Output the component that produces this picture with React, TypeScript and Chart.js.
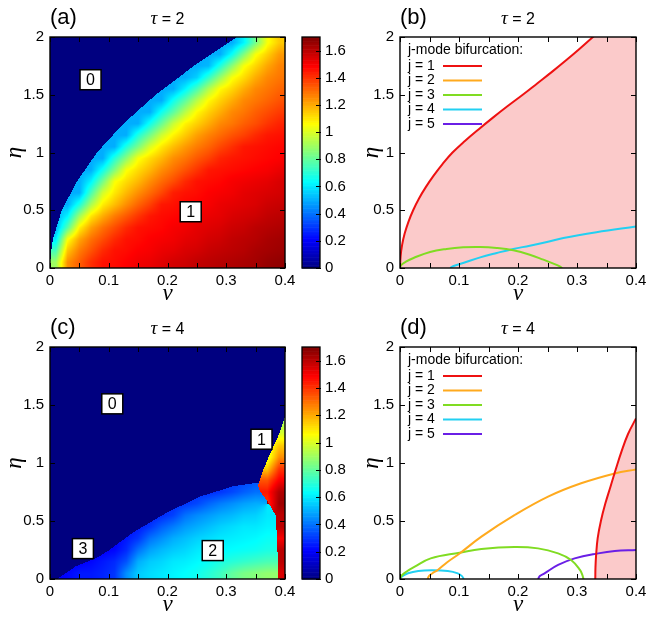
import React, { useEffect, useRef } from "react";
import { Chart, registerables } from "chart.js";

Chart.register(...registerables);

const PAGE_W = 654;
const PAGE_H = 619;
const SANS = '"Liberation Sans", Arial, Helvetica, sans-serif';
const SERIF = '"Liberation Serif", "DejaVu Serif", "Times New Roman", serif';

// ---------- heat-map grid (cell centres) ----------
const NU_CENTERS = [0.01, 0.03, 0.05, 0.07, 0.09, 0.11, 0.13, 0.15, 0.17, 0.19, 0.21, 0.23, 0.25, 0.27, 0.29, 0.31, 0.33, 0.35, 0.37, 0.39];
const ETA_CENTERS = [0.05, 0.15, 0.25, 0.35, 0.45, 0.55, 0.65, 0.75, 0.85, 0.95, 1.05, 1.15, 1.25, 1.35, 1.45, 1.55, 1.65, 1.75, 1.85, 1.95];

// panel (a), tau = 2 ; rows from eta = 0.05 (bottom) to eta = 1.95 (top)
const HEAT_A = [
  [0.9, 1.25, 1.33, 1.41, 1.46, 1.47, 1.49, 1.51, 1.52, 1.54, 1.56, 1.57, 1.59, 1.6, 1.61, 1.62, 1.63, 1.64, 1.66, 1.67],
  [0.75, 1.16, 1.28, 1.35, 1.42, 1.46, 1.47, 1.49, 1.5, 1.52, 1.53, 1.55, 1.56, 1.58, 1.59, 1.6, 1.61, 1.63, 1.64, 1.65],
  [0.6, 1.05, 1.21, 1.3, 1.36, 1.42, 1.46, 1.47, 1.49, 1.5, 1.51, 1.53, 1.54, 1.56, 1.57, 1.59, 1.6, 1.61, 1.63, 1.64],
  [0.5, 0.78, 1.08, 1.22, 1.3, 1.36, 1.42, 1.46, 1.47, 1.48, 1.5, 1.51, 1.53, 1.54, 1.55, 1.57, 1.58, 1.6, 1.61, 1.62],
  [0.5, 0.62, 0.9, 1.1, 1.2, 1.28, 1.34, 1.4, 1.45, 1.47, 1.48, 1.49, 1.51, 1.52, 1.53, 1.55, 1.56, 1.57, 1.59, 1.6],
  [0, 0.5, 0.68, 0.92, 1.09, 1.17, 1.25, 1.32, 1.38, 1.45, 1.46, 1.48, 1.49, 1.5, 1.52, 1.53, 1.54, 1.55, 1.57, 1.58],
  [0, 0.5, 0.5, 0.76, 0.99, 1.1, 1.18, 1.25, 1.31, 1.37, 1.44, 1.46, 1.47, 1.49, 1.5, 1.51, 1.53, 1.54, 1.55, 1.56],
  [0, 0, 0.5, 0.62, 0.83, 1.05, 1.12, 1.18, 1.25, 1.31, 1.36, 1.42, 1.46, 1.47, 1.48, 1.5, 1.51, 1.52, 1.53, 1.55],
  [0, 0, 0.5, 0.5, 0.66, 0.85, 1.05, 1.12, 1.18, 1.25, 1.3, 1.35, 1.4, 1.45, 1.46, 1.47, 1.48, 1.49, 1.5, 1.52],
  [0, 0, 0, 0.5, 0.5, 0.7, 0.87, 1.05, 1.12, 1.18, 1.25, 1.29, 1.34, 1.38, 1.43, 1.45, 1.46, 1.47, 1.48, 1.49],
  [0, 0, 0, 0, 0.5, 0.5, 0.69, 0.84, 1.0, 1.1, 1.17, 1.23, 1.28, 1.32, 1.37, 1.41, 1.45, 1.46, 1.47, 1.48],
  [0, 0, 0, 0, 0, 0.5, 0.5, 0.69, 0.83, 0.98, 1.08, 1.15, 1.22, 1.27, 1.31, 1.35, 1.38, 1.42, 1.45, 1.46],
  [0, 0, 0, 0, 0, 0, 0.5, 0.5, 0.66, 0.81, 0.97, 1.08, 1.14, 1.2, 1.26, 1.29, 1.33, 1.36, 1.4, 1.43],
  [0, 0, 0, 0, 0, 0, 0, 0.5, 0.5, 0.66, 0.79, 0.94, 1.07, 1.14, 1.2, 1.26, 1.29, 1.33, 1.36, 1.39],
  [0, 0, 0, 0, 0, 0, 0, 0, 0.5, 0.5, 0.66, 0.79, 0.94, 1.07, 1.14, 1.2, 1.26, 1.29, 1.32, 1.35],
  [0, 0, 0, 0, 0, 0, 0, 0, 0, 0.5, 0.5, 0.62, 0.76, 0.93, 1.07, 1.13, 1.2, 1.26, 1.29, 1.32],
  [0, 0, 0, 0, 0, 0, 0, 0, 0, 0, 0.5, 0.5, 0.56, 0.72, 0.89, 1.05, 1.12, 1.2, 1.26, 1.29],
  [0, 0, 0, 0, 0, 0, 0, 0, 0, 0, 0, 0.5, 0.5, 0.52, 0.69, 0.87, 1.05, 1.13, 1.21, 1.27],
  [0, 0, 0, 0, 0, 0, 0, 0, 0, 0, 0, 0, 0.5, 0.5, 0.5, 0.65, 0.85, 1.05, 1.14, 1.23],
  [0, 0, 0, 0, 0, 0, 0, 0, 0, 0, 0, 0, 0, 0.5, 0.5, 0.5, 0.62, 0.83, 1.05, 1.15],
];
// upper edge of the non-zero region in (a)
const A_EDGE_NU = [0, 0.0013, 0.005, 0.02, 0.046, 0.08, 0.125, 0.18, 0.245, 0.318, 0.4];
const A_EDGE_ETA = [0, 0.12, 0.25, 0.5, 0.75, 1.0, 1.25, 1.5, 1.75, 2.0, 2.25];

// panel (c), tau = 4
const HEAT_C = [
  [0.2, 0.22, 0.25, 0.25, 0.27, 0.3, 0.45, 0.55, 0.58, 0.6, 0.62, 0.64, 0.66, 0.7, 0.74, 0.8, 0.84, 0.86, 0.88, 1.55],
  [0, 0.2, 0.2, 0.22, 0.25, 0.28, 0.35, 0.5, 0.55, 0.57, 0.6, 0.61, 0.63, 0.65, 0.68, 0.7, 0.72, 0.74, 0.76, 1.6],
  [0, 0, 0, 0.2, 0.2, 0.22, 0.28, 0.4, 0.48, 0.52, 0.55, 0.57, 0.6, 0.62, 0.63, 0.64, 0.65, 0.66, 0.68, 1.6],
  [0, 0, 0, 0, 0, 0.2, 0.25, 0.3, 0.4, 0.45, 0.5, 0.53, 0.56, 0.58, 0.6, 0.61, 0.62, 0.63, 0.65, 1.5],
  [0, 0, 0, 0, 0, 0, 0.22, 0.25, 0.3, 0.37, 0.42, 0.47, 0.5, 0.53, 0.56, 0.58, 0.6, 0.6, 0.62, 1.6],
  [0, 0, 0, 0, 0, 0, 0, 0, 0.25, 0.28, 0.32, 0.4, 0.44, 0.47, 0.5, 0.52, 0.55, 0.56, 0.6, 1.6],
  [0, 0, 0, 0, 0, 0, 0, 0, 0, 0, 0.28, 0.3, 0.33, 0.38, 0.42, 0.45, 0.48, 0.5, 1.4, 1.65],
  [0, 0, 0, 0, 0, 0, 0, 0, 0, 0, 0, 0, 0.28, 0.28, 0.3, 0.33, 0.37, 0.4, 1.45, 1.62],
  [0, 0, 0, 0, 0, 0, 0, 0, 0, 0, 0, 0, 0, 0, 0, 0.3, 0.32, 0.35, 1.35, 1.5],
  [0, 0, 0, 0, 0, 0, 0, 0, 0, 0, 0, 0, 0, 0, 0, 0, 0, 0, 1.15, 1.4],
  [0, 0, 0, 0, 0, 0, 0, 0, 0, 0, 0, 0, 0, 0, 0, 0, 0, 0, 1.0, 1.25],
  [0, 0, 0, 0, 0, 0, 0, 0, 0, 0, 0, 0, 0, 0, 0, 0, 0, 0, 1.0, 1.15],
  [0, 0, 0, 0, 0, 0, 0, 0, 0, 0, 0, 0, 0, 0, 0, 0, 0, 0, 0, 1.0],
  [0, 0, 0, 0, 0, 0, 0, 0, 0, 0, 0, 0, 0, 0, 0, 0, 0, 0, 0, 0.92],
  [0, 0, 0, 0, 0, 0, 0, 0, 0, 0, 0, 0, 0, 0, 0, 0, 0, 0, 0, 0.9],
  [0, 0, 0, 0, 0, 0, 0, 0, 0, 0, 0, 0, 0, 0, 0, 0, 0, 0, 0, 0],
  [0, 0, 0, 0, 0, 0, 0, 0, 0, 0, 0, 0, 0, 0, 0, 0, 0, 0, 0, 0],
  [0, 0, 0, 0, 0, 0, 0, 0, 0, 0, 0, 0, 0, 0, 0, 0, 0, 0, 0, 0],
  [0, 0, 0, 0, 0, 0, 0, 0, 0, 0, 0, 0, 0, 0, 0, 0, 0, 0, 0, 0],
  [0, 0, 0, 0, 0, 0, 0, 0, 0, 0, 0, 0, 0, 0, 0, 0, 0, 0, 0, 0],
];
// upper edge of regions 2/3 in (c), eta as a function of nu
const C_EDGE_NU = [0, 0.012, 0.044, 0.079, 0.101, 0.141, 0.198, 0.255, 0.312, 0.352, 0.4];
const C_EDGE_ETA = [0, 0, 0.11, 0.18, 0.25, 0.4, 0.57, 0.71, 0.8, 0.83, 0.83];
// left edge of the hot region 1 in (c), nu as a function of eta
const C_R1_ETA = [0, 0.3, 0.55, 0.62, 0.68, 0.75, 0.8, 0.85, 0.94, 1.05, 1.14, 1.25, 1.35, 1.42];
const C_R1_NU = [0.388, 0.387, 0.384, 0.376, 0.369, 0.358, 0.354, 0.357, 0.363, 0.372, 0.38, 0.39, 0.397, 0.401];
const C_HOT_SPLIT = 0.9;

const CB_MIN = 0;
const CB_MAX = 1.7;
const CB_STEP = 0.2;

// region labels in heat maps
const A_BOX_TEXT = ["0", "1"];
const A_BOX_NU = [0.069, 0.2395];
const A_BOX_ETA = [1.63, 0.487];
const C_BOX_TEXT = ["0", "1", "3", "2"];
const C_BOX_NU = [0.106, 0.36, 0.056, 0.277];
const C_BOX_ETA = [1.51, 1.205, 0.262, 0.245];

// ---------- bifurcation curves ----------
const SERIES_NAMES = ["j = 1", "j = 2", "j = 3", "j = 4", "j = 5"];
const SERIES_COLORS = ["#ee1111", "#ffaa1e", "#80dc22", "#22d0f2", "#6a1fe6"];
const PINK = "#fbcaca";

// (b) tau = 2
const B_J1_NU = [0, 0.001, 0.0036, 0.008, 0.0143, 0.0223, 0.032, 0.0437, 0.057, 0.072, 0.089, 0.11, 0.133, 0.157, 0.182, 0.208, 0.233, 0.258, 0.282, 0.305, 0.327, 0.35, 0.4];
const B_J1_ETA = [0, 0.1, 0.2, 0.3, 0.4, 0.5, 0.6, 0.7, 0.8, 0.9, 1.0, 1.1, 1.2, 1.3, 1.4, 1.5, 1.6, 1.7, 1.8, 1.9, 2.0, 2.1, 2.3];
const B_J3_NU = [0, 0.002, 0.01, 0.023, 0.051, 0.079, 0.107, 0.136, 0.164, 0.192, 0.22, 0.243, 0.26, 0.27, 0.275];
const B_J3_ETA = [0, 0.025, 0.055, 0.087, 0.139, 0.165, 0.179, 0.182, 0.173, 0.153, 0.115, 0.072, 0.038, 0.016, 0];
const B_J4_NU = [0.085, 0.09, 0.107, 0.136, 0.164, 0.192, 0.22, 0.249, 0.277, 0.333, 0.4];
const B_J4_ETA = [0, 0.015, 0.043, 0.092, 0.13, 0.165, 0.193, 0.225, 0.26, 0.31, 0.36];

// (d) tau = 4
const D_J1_NU = [0.331, 0.3313, 0.3323, 0.335, 0.3405, 0.348, 0.357, 0.366, 0.3755, 0.3865, 0.4];
const D_J1_ETA = [0, 0.1, 0.2, 0.35, 0.5, 0.65, 0.8, 0.95, 1.1, 1.25, 1.384];
const D_J2_NU = [0.047, 0.049, 0.055, 0.064, 0.08, 0.101, 0.138, 0.194, 0.251, 0.307, 0.364, 0.4];
const D_J2_ETA = [0, 0.025, 0.05, 0.078, 0.145, 0.22, 0.365, 0.55, 0.71, 0.825, 0.91, 0.945];
const D_J3_NU = [0, 0.003, 0.01, 0.025, 0.052, 0.101, 0.138, 0.194, 0.234, 0.268, 0.29, 0.305, 0.309, 0.311];
const D_J3_ETA = [0, 0.03, 0.06, 0.106, 0.178, 0.227, 0.259, 0.276, 0.264, 0.221, 0.164, 0.078, 0.035, 0];
const D_J4_NU = [0, 0.004, 0.0136, 0.031, 0.053, 0.081, 0.098, 0.105, 0.108];
const D_J4_ETA = [0, 0.025, 0.05, 0.069, 0.075, 0.069, 0.049, 0.025, 0];
const D_J5_NU = [0.234, 0.237, 0.245, 0.268, 0.296, 0.336, 0.364, 0.4];
const D_J5_ETA = [0, 0.025, 0.049, 0.121, 0.178, 0.221, 0.241, 0.25];

// ---------- axes ----------
const NU_MIN = 0, NU_MAX = 0.4, NU_LABEL_STEP = 0.1;
const ETA_MIN = 0, ETA_MAX = 2, ETA_STEP = 0.5;
const NU_TICKS = [0, 0.05, 0.1, 0.15, 0.2, 0.25, 0.3, 0.35, 0.4];
const ETA_TICKS = [0, 0.5, 1, 1.5, 2];

// ---------- layout (chart areas in page pixels) ----------
const AREA_A = { left: 50, right: 285, top: 37, bottom: 268 };
const AREA_B = { left: 400, right: 636, top: 37, bottom: 268 };
const AREA_C = { left: 50, right: 285, top: 347, bottom: 579 };
const AREA_D = { left: 400, right: 636, top: 347, bottom: 579 };
const CB_AREA_A = { left: 302, right: 320, top: 37, bottom: 268 };
const CB_AREA_C = { left: 302, right: 320, top: 347, bottom: 579 };
const Y_AXIS_W = 50;
const X_AXIS_H = 30;

type Area = { left: number; right: number; top: number; bottom: number };

function jetRGB(t: number): [number, number, number] {
  const tt = Math.max(0, Math.min(1, t));
  const c = (v: number) => Math.round(255 * Math.max(0, Math.min(1, v)));
  return [c(1.5 - Math.abs(4 * tt - 3)), c(1.5 - Math.abs(4 * tt - 2)), c(1.5 - Math.abs(4 * tt - 1))];
}
function jet(t: number): string {
  const [r, g, b] = jetRGB(t);
  return `rgb(${r},${g},${b})`;
}

// piecewise-linear lookup along a read edge
function along(xsArr: number[], ysArr: number[], x: number): number {
  if (x <= xsArr[0]) return ysArr[0];
  for (let i = 1; i < xsArr.length; i++) {
    if (x <= xsArr[i]) {
      const t = (x - xsArr[i - 1]) / (xsArr[i] - xsArr[i - 1]);
      return ysArr[i - 1] + t * (ysArr[i] - ysArr[i - 1]);
    }
  }
  return ysArr[ysArr.length - 1];
}

// zone: 0 = state "0", 1 = ordinary region, 2 = hot region
const zoneA = (nu: number, eta: number) => (eta <= along(A_EDGE_NU, A_EDGE_ETA, nu) ? 1 : 0);
const zoneC = (nu: number, eta: number) => {
  if (eta <= C_R1_ETA[C_R1_ETA.length - 1] && nu >= along(C_R1_ETA, C_R1_NU, eta)) return 2;
  if (eta <= along(C_EDGE_NU, C_EDGE_ETA, nu)) return 1;
  return 0;
};

const fmt = (v: number) => {
  const r = Math.round(v * 100) / 100;
  return r === 0 ? "0" : String(r);
};

const pts = (xs: number[], ys: number[]) => xs.map((x, i) => ({ x, y: ys[i] }));

const NO_GRID = { display: false, drawTicks: false, tickLength: 0 };

function axesOptions() {
  return {
    x: {
      type: "linear",
      min: NU_MIN,
      max: NU_MAX,
      grid: NO_GRID,
      border: { display: false },
      ticks: {
        stepSize: NU_LABEL_STEP,
        autoSkip: false,
        maxRotation: 0,
        padding: 4,
        color: "#000",
        font: { family: SANS, size: 15 },
        callback: (v: any) => fmt(Number(v)),
      },
      afterFit: (s: any) => {
        s.height = X_AXIS_H;
      },
    },
    y: {
      type: "linear",
      min: ETA_MIN,
      max: ETA_MAX,
      grid: NO_GRID,
      border: { display: false },
      ticks: {
        stepSize: ETA_STEP,
        autoSkip: false,
        padding: 6,
        color: "#000",
        font: { family: SANS, size: 15 },
        callback: (v: any) => fmt(Number(v)),
      },
      afterFit: (s: any) => {
        s.width = Y_AXIS_W;
      },
    },
  };
}

function paddingFor(area: Area) {
  return {
    left: area.left - Y_AXIS_W,
    right: PAGE_W - area.right,
    top: area.top,
    bottom: PAGE_H - area.bottom - X_AXIS_H,
  };
}

type DecorCfg = {
  letter: string;
  tau: string;
  etaOffset: number;
  boxes?: { text: string[]; nu: number[]; eta: number[] };
  legend?: boolean;
};

function makeDecor(cfg: DecorCfg) {
  return {
    id: "decor",
    afterDraw(chart: any) {
      const { ctx, chartArea: a, scales } = chart;
      const xs = scales.x;
      const ys = scales.y;
      ctx.save();
      ctx.strokeStyle = "#000";
      ctx.lineWidth = 1;
      ctx.beginPath();
      for (const v of NU_TICKS) {
        const px = Math.round(xs.getPixelForValue(v)) + 0.5;
        ctx.moveTo(px, a.bottom);
        ctx.lineTo(px, a.bottom - 5);
        ctx.moveTo(px, a.top);
        ctx.lineTo(px, a.top + 5);
      }
      for (const v of ETA_TICKS) {
        const py = Math.round(ys.getPixelForValue(v)) + 0.5;
        ctx.moveTo(a.left, py);
        ctx.lineTo(a.left + 5, py);
        ctx.moveTo(a.right, py);
        ctx.lineTo(a.right - 5, py);
      }
      ctx.stroke();
      ctx.lineWidth = 1.4;
      ctx.strokeRect(a.left, a.top, a.right - a.left, a.bottom - a.top);

      if (cfg.boxes) {
        const b = cfg.boxes;
        for (let i = 0; i < b.text.length; i++) {
          const cx = xs.getPixelForValue(b.nu[i]);
          const cy = ys.getPixelForValue(b.eta[i]);
          const w = 21, h = 20;
          ctx.fillStyle = "#fff";
          ctx.fillRect(cx - w / 2, cy - h / 2, w, h);
          ctx.lineWidth = 1.5;
          ctx.strokeStyle = "#000";
          ctx.strokeRect(cx - w / 2, cy - h / 2, w, h);
          ctx.fillStyle = "#000";
          ctx.font = `16px ${SANS}`;
          ctx.textAlign = "center";
          ctx.textBaseline = "middle";
          ctx.fillText(b.text[i], cx, cy + 1);
        }
      }

      if (cfg.legend) {
        ctx.fillStyle = "#000";
        ctx.font = `14px ${SANS}`;
        ctx.textAlign = "left";
        ctx.textBaseline = "middle";
        ctx.fillText("j-mode bifurcation:", a.left + 8, a.top + 13);
        for (let k = 0; k < SERIES_NAMES.length; k++) {
          const y = a.top + 29 + k * 14.5;
          ctx.fillStyle = "#000";
          ctx.fillText(SERIES_NAMES[k], a.left + 8, y);
          ctx.strokeStyle = SERIES_COLORS[k];
          ctx.lineWidth = 2;
          ctx.beginPath();
          ctx.moveTo(a.left + 43, y);
          ctx.lineTo(a.left + 82, y);
          ctx.stroke();
        }
      }

      ctx.fillStyle = "#000";
      ctx.textBaseline = "middle";
      ctx.textAlign = "left";
      ctx.font = `22px ${SANS}`;
      ctx.fillText(cfg.letter, a.left, a.top - 19);
      const cx = (a.left + a.right) / 2;
      ctx.font = `italic 19px ${SERIF}`;
      const wt = ctx.measureText("\u03c4").width;
      ctx.font = `16px ${SANS}`;
      const rest = " = " + cfg.tau;
      const wr = ctx.measureText(rest).width;
      const x0 = cx - (wt + wr) / 2;
      ctx.font = `italic 19px ${SERIF}`;
      ctx.fillText("\u03c4", x0, a.top - 18);
      ctx.font = `16px ${SANS}`;
      ctx.fillText(rest, x0 + wt, a.top - 17);

      ctx.font = `italic 23px ${SERIF}`;
      ctx.textAlign = "center";
      ctx.fillText("\u03bd", cx, a.bottom + 26);
      ctx.save();
      ctx.translate(a.left - cfg.etaOffset, (a.top + a.bottom) / 2);
      ctx.rotate(-Math.PI / 2);
      ctx.fillText("\u03b7", 0, 0);
      ctx.restore();
      ctx.restore();
    },
  };
}

// heat map: cell values held in the dataset, shaded through the chart scales.
function makeHeatPlugin(zone: (nu: number, eta: number) => number, hotSplit: number) {
  return {
    id: "heat",
    beforeDatasetsDraw(chart: any) {
      const { ctx, chartArea: a, scales } = chart;
      const xs = scales.x;
      const ys = scales.y;
      const data = chart.data.datasets[0].data as { x: number; y: number; v: number }[];
      const nx = NU_CENTERS.length;
      const ny = ETA_CENTERS.length;
      const grid = (i: number, j: number) => data[j * nx + i].v;
      const dnu = NU_CENTERS[1] - NU_CENTERS[0];
      const deta = ETA_CENTERS[1] - ETA_CENTERS[0];
      const x0 = Math.round(a.left), x1 = Math.round(a.right);
      const y0 = Math.round(a.top), y1 = Math.round(a.bottom);
      const w = x1 - x0, h = y1 - y0;
      const img = ctx.createImageData(w, h);
      for (let py = 0; py < h; py++) {
        const eta = ys.getValueForPixel(y0 + py + 0.5);
        let fj = (eta - ETA_CENTERS[0]) / deta;
        fj = Math.max(0, Math.min(ny - 1, fj));
        const j0 = Math.min(ny - 2, Math.floor(fj));
        const tj = fj - j0;
        for (let px = 0; px < w; px++) {
          const nu = xs.getValueForPixel(x0 + px + 0.5);
          const z = zone(nu, eta);
          let v = 0;
          if (z > 0) {
            let fi = (nu - NU_CENTERS[0]) / dnu;
            fi = Math.max(0, Math.min(nx - 1, fi));
            const i0 = Math.min(nx - 2, Math.floor(fi));
            const ti = fi - i0;
            const corners = [grid(i0, j0), grid(i0 + 1, j0), grid(i0, j0 + 1), grid(i0 + 1, j0 + 1)];
            const wts = [(1 - ti) * (1 - tj), ti * (1 - tj), (1 - ti) * tj, ti * tj];
            let sw = 0, sv = 0;
            for (let k = 0; k < 4; k++) {
              const c = corners[k];
              const ok = z === 2 ? c >= hotSplit : c > 0 && c < hotSplit;
              if (ok) {
                sw += wts[k];
                sv += wts[k] * c;
              }
            }
            if (sw > 0) v = sv / sw;
            else v = Math.max(...corners);
          }
          const [r, g, b] = jetRGB((v - CB_MIN) / (CB_MAX - CB_MIN));
          const k4 = (py * w + px) * 4;
          img.data[k4] = r;
          img.data[k4 + 1] = g;
          img.data[k4 + 2] = b;
          img.data[k4 + 3] = 255;
        }
      }
      ctx.putImageData(img, x0, y0);
    },
  };
}

function heatConfig(
  rows: number[][],
  zone: (nu: number, eta: number) => number,
  hotSplit: number,
  area: Area,
  decor: DecorCfg
): any {
  const cells = ETA_CENTERS.flatMap((eta, j) => NU_CENTERS.map((nu, i) => ({ x: nu, y: eta, v: rows[j][i] })));
  return {
    type: "scatter",
    data: { datasets: [{ data: cells, pointRadius: 0, showLine: false }] },
    options: {
      animation: false,
      responsive: false,
      events: [],
      layout: { padding: paddingFor(area) },
      plugins: { legend: { display: false }, tooltip: { enabled: false } },
      scales: axesOptions(),
    },
    plugins: [makeHeatPlugin(zone, hotSplit), makeDecor(decor)],
  };
}

function colorbarConfig(area: Area): any {
  const cbPlugin = {
    id: "cb",
    beforeDatasetsDraw(chart: any) {
      const { ctx, chartArea: a, scales } = chart;
      const ys = scales.y;
      ctx.save();
      const n = 170;
      for (let k = 0; k < n; k++) {
        const v0 = CB_MIN + ((CB_MAX - CB_MIN) * k) / n;
        const v1 = CB_MIN + ((CB_MAX - CB_MIN) * (k + 1)) / n;
        const p0 = ys.getPixelForValue(v0);
        const p1 = ys.getPixelForValue(v1);
        ctx.fillStyle = jet((v0 + v1) / 2 / (CB_MAX - CB_MIN));
        ctx.fillRect(a.left, p1, a.right - a.left, p0 - p1 + 0.6);
      }
      ctx.strokeStyle = "#000";
      ctx.lineWidth = 1;
      ctx.beginPath();
      for (let v = CB_MIN; v <= CB_MAX + 1e-9; v += CB_STEP) {
        const py = Math.round(ys.getPixelForValue(v)) + 0.5;
        ctx.moveTo(a.right - 4, py);
        ctx.lineTo(a.right + 1, py);
      }
      ctx.stroke();
      ctx.lineWidth = 1.3;
      ctx.strokeRect(a.left, a.top, a.right - a.left, a.bottom - a.top);
      ctx.restore();
    },
  };
  return {
    type: "scatter",
    data: { datasets: [{ data: [], pointRadius: 0 }] },
    options: {
      animation: false,
      responsive: false,
      events: [],
      layout: {
        padding: { left: area.left, right: PAGE_W - area.right - 40, top: area.top, bottom: PAGE_H - area.bottom },
      },
      plugins: { legend: { display: false }, tooltip: { enabled: false } },
      scales: {
        x: { display: false, min: 0, max: 1 },
        y: {
          type: "linear",
          position: "right",
          min: CB_MIN,
          max: CB_MAX,
          grid: NO_GRID,
          border: { display: false },
          ticks: {
            stepSize: CB_STEP,
            includeBounds: false,
            padding: 5,
            color: "#000",
            font: { family: SANS, size: 15 },
            callback: (v: any) => fmt(Number(v)),
          },
          afterFit: (s: any) => {
            s.width = 40;
          },
        },
      },
    },
    plugins: [cbPlugin],
  };
}

function lineDataset(xs: number[], ys: number[], color: string, fill: boolean) {
  return {
    data: pts(xs, ys),
    showLine: true,
    borderColor: color,
    borderWidth: 2,
    pointRadius: 0,
    tension: 0.4,
    fill: fill ? "origin" : false,
    backgroundColor: fill ? PINK : "transparent",
  };
}

function lineConfig(datasets: any[], area: Area, decor: DecorCfg): any {
  return {
    type: "scatter",
    data: { datasets },
    options: {
      animation: false,
      responsive: false,
      events: [],
      layout: { padding: paddingFor(area) },
      plugins: {
        legend: { display: false },
        tooltip: { enabled: false },
        filler: { propagate: false, drawTime: "beforeDatasetsDraw" },
      },
      scales: axesOptions(),
    },
    plugins: [makeDecor(decor)],
  };
}

export default function App() {
  const refA = useRef<HTMLCanvasElement>(null);
  const refCbA = useRef<HTMLCanvasElement>(null);
  const refB = useRef<HTMLCanvasElement>(null);
  const refC = useRef<HTMLCanvasElement>(null);
  const refCbC = useRef<HTMLCanvasElement>(null);
  const refD = useRef<HTMLCanvasElement>(null);

  useEffect(() => {
    const charts: Chart[] = [];
    charts.push(
      new Chart(
        refA.current!,
        heatConfig(HEAT_A, zoneA, Infinity, AREA_A, {
          letter: "(a)",
          tau: "2",
          etaOffset: 35,
          boxes: { text: A_BOX_TEXT, nu: A_BOX_NU, eta: A_BOX_ETA },
        })
      )
    );
    charts.push(new Chart(refCbA.current!, colorbarConfig(CB_AREA_A)));
    charts.push(
      new Chart(
        refB.current!,
        lineConfig(
          [
            lineDataset(B_J1_NU, B_J1_ETA, SERIES_COLORS[0], true),
            lineDataset(B_J3_NU, B_J3_ETA, SERIES_COLORS[2], false),
            lineDataset(B_J4_NU, B_J4_ETA, SERIES_COLORS[3], false),
          ],
          AREA_B,
          { letter: "(b)", tau: "2", etaOffset: 28, legend: true }
        )
      )
    );
    charts.push(
      new Chart(
        refC.current!,
        heatConfig(HEAT_C, zoneC, C_HOT_SPLIT, AREA_C, {
          letter: "(c)",
          tau: "4",
          etaOffset: 35,
          boxes: { text: C_BOX_TEXT, nu: C_BOX_NU, eta: C_BOX_ETA },
        })
      )
    );
    charts.push(new Chart(refCbC.current!, colorbarConfig(CB_AREA_C)));
    charts.push(
      new Chart(
        refD.current!,
        lineConfig(
          [
            lineDataset(D_J1_NU, D_J1_ETA, SERIES_COLORS[0], true),
            lineDataset(D_J2_NU, D_J2_ETA, SERIES_COLORS[1], false),
            lineDataset(D_J3_NU, D_J3_ETA, SERIES_COLORS[2], false),
            lineDataset(D_J4_NU, D_J4_ETA, SERIES_COLORS[3], false),
            lineDataset(D_J5_NU, D_J5_ETA, SERIES_COLORS[4], false),
          ],
          AREA_D,
          { letter: "(d)", tau: "4", etaOffset: 28, legend: true }
        )
      )
    );
    return () => charts.forEach((c) => c.destroy());
  }, []);

  const cs: React.CSSProperties = { position: "absolute", left: 0, top: 0, width: PAGE_W, height: PAGE_H };
  return (
    <div style={{ position: "fixed", left: 0, top: 0, width: PAGE_W, height: PAGE_H, background: "#fff" }}>
      <canvas ref={refA} width={PAGE_W} height={PAGE_H} style={cs} />
      <canvas ref={refCbA} width={PAGE_W} height={PAGE_H} style={cs} />
      <canvas ref={refB} width={PAGE_W} height={PAGE_H} style={cs} />
      <canvas ref={refC} width={PAGE_W} height={PAGE_H} style={cs} />
      <canvas ref={refCbC} width={PAGE_W} height={PAGE_H} style={cs} />
      <canvas ref={refD} width={PAGE_W} height={PAGE_H} style={cs} />
    </div>
  );
}
